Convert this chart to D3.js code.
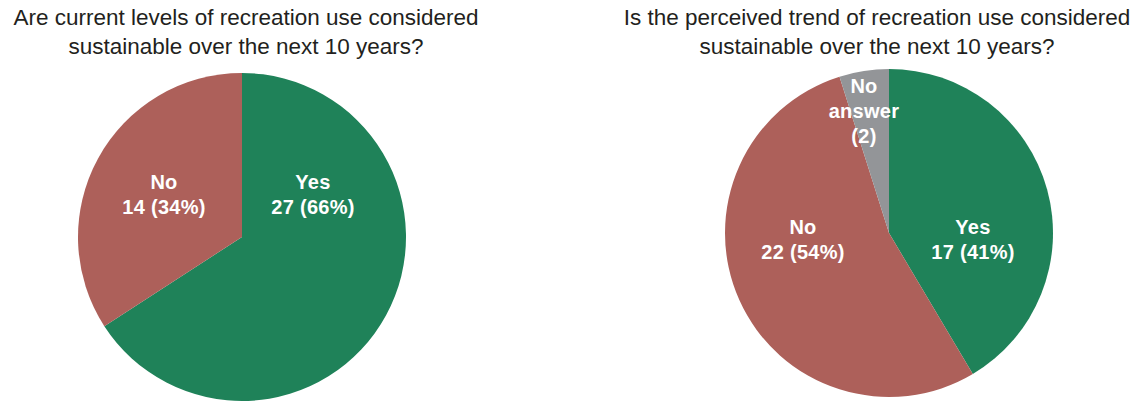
<!DOCTYPE html>
<html>
<head>
<meta charset="utf-8">
<script src="https://cdn.jsdelivr.net/npm/d3@7"></script>
<style>
  html, body { margin: 0; padding: 0; background: #fff; }
  svg { display: block; }
  .title { font-family: "Liberation Sans", Arial, sans-serif; font-size: 22.5px; fill: #231f20; }
  .lbl { font-family: "Liberation Sans", Arial, sans-serif; font-size: 20px; font-weight: bold; fill: #fff; letter-spacing: 0.3px; }
</style>
</head>
<body>
<svg id="chart" width="1146" height="403"></svg>
<script>
// Survey answers, one pie per question
const categoriesCurrent = ["Yes", "No"];
const valuesCurrent = [27, 14];
const labelsCurrent = [["Yes", "27 (66%)"], ["No", "14 (34%)"]];

const categoriesTrend = ["Yes", "No", "No answer"];
const valuesTrend = [17, 22, 2];
const labelsTrend = [["Yes", "17 (41%)"], ["No", "22 (54%)"], ["No", "answer", "(2)"]];

const titleCurrent = ["Are current levels of recreation use considered", "sustainable over the next 10 years?"];
const titleTrend = ["Is the perceived trend of recreation use considered", "sustainable over the next 10 years?"];

const colour = d3.scaleOrdinal()
  .domain(["Yes", "No", "No answer"])
  .range(["#1f8259", "#ad605a", "#939598"]);

const svg = d3.select("#chart");

function drawPie(cfg) {
  const g = svg.append("g");
  const title = g.append("text").attr("class", "title").attr("text-anchor", "middle");
  cfg.title.forEach((t, i) => {
    title.append("tspan").attr("x", cfg.titleX).attr("y", 25 + i * 29).text(t);
  });

  const pie = d3.pie().sort(null).value(d => d.value);
  const arc = d3.arc().innerRadius(0).outerRadius(cfg.r);
  const data = cfg.categories.map((c, i) => ({ cat: c, value: cfg.values[i], lines: cfg.labels[i], off: cfg.labelOffsets[i] }));
  const arcs = pie(data);

  const pg = g.append("g").attr("transform", `translate(${cfg.cx},${cfg.cy})`);
  pg.selectAll("path").data(arcs).join("path")
    .attr("d", arc)
    .attr("fill", d => colour(d.data.cat));

  const lineH = 25;
  pg.selectAll("text.lbl").data(arcs).join("text")
    .attr("class", "lbl")
    .attr("text-anchor", "middle")
    .each(function(d) {
      const t = d3.select(this);
      const n = d.data.lines.length;
      d.data.lines.forEach((s, i) => {
        t.append("tspan")
          .attr("x", d.data.off[0])
          .attr("y", d.data.off[1] + (i - (n - 1) / 2) * lineH + 7)
          .text(s);
      });
    });
}

drawPie({
  title: titleCurrent, titleX: 246,
  cx: 242, cy: 237, r: 164,
  categories: categoriesCurrent, values: valuesCurrent, labels: labelsCurrent,
  labelOffsets: [[71, -43], [-78, -43]]
});

drawPie({
  title: titleTrend, titleX: 877,
  cx: 889, cy: 233, r: 164,
  categories: categoriesTrend, values: valuesTrend, labels: labelsTrend,
  labelOffsets: [[84, 6], [-86, 6], [-25, -122]]
});
</script>
</body>
</html>
